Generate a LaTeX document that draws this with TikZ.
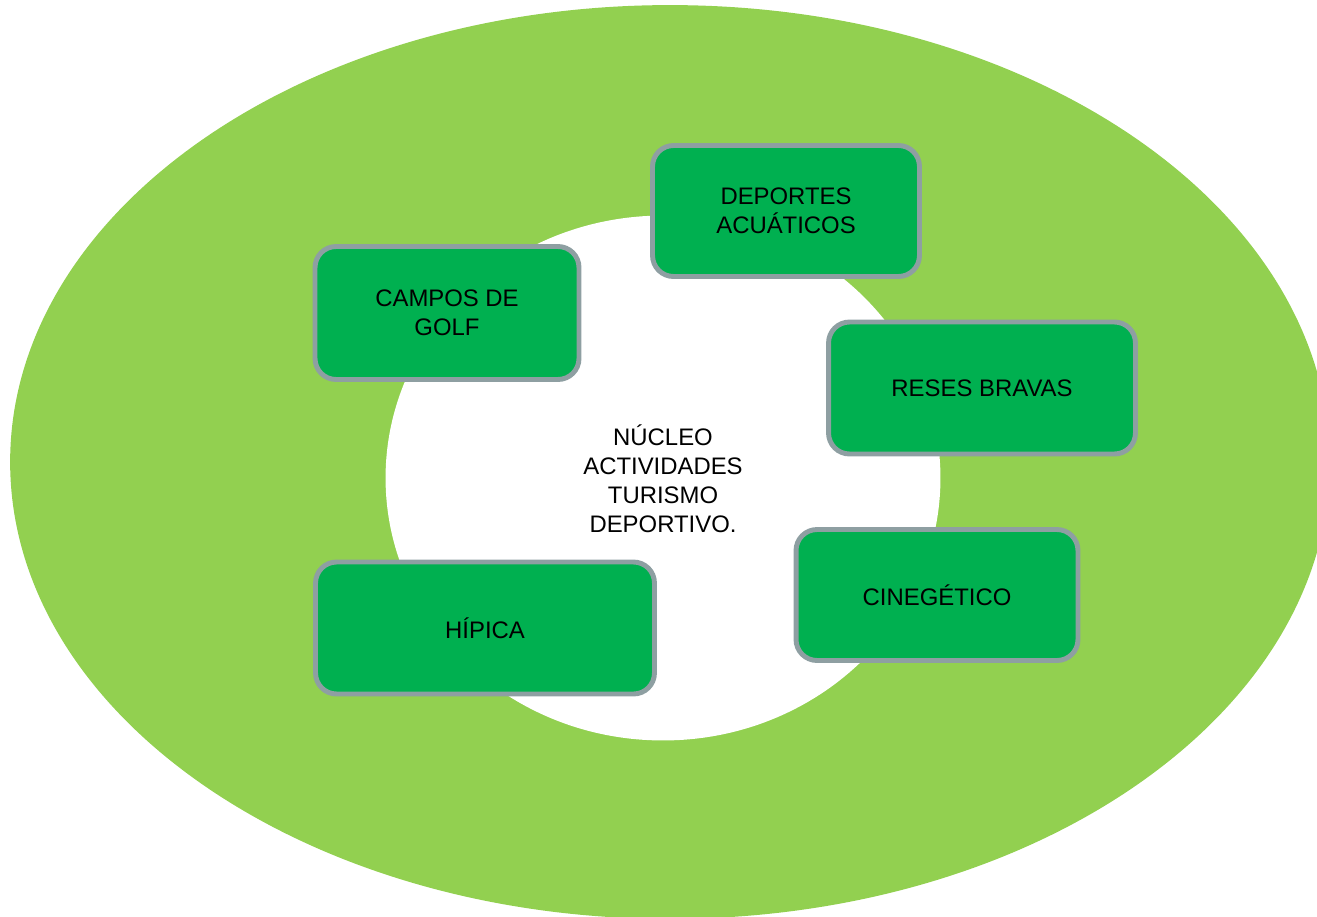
\documentclass[tikz,border=0pt]{standalone}
\usepackage{fontspec}
\setmainfont{Liberation Sans}
\usepackage{tikz}
\usetikzlibrary{positioning}

\definecolor{verdeclaro}{HTML}{92D050}
\definecolor{verdecaja}{HTML}{00B050}
\definecolor{bordegris}{HTML}{8E9FA2}

\tikzset{
  actividad/.style={draw=bordegris, line width=2.8pt, fill=verdecaja, rounded corners=0.42cm,
    align=center, inner sep=2pt, font=\fontsize{13.6}{16.5}\selectfont},
  nucleo/.style={align=center, font=\fontsize{13.6}{16.5}\selectfont}
}

\begin{document}
\begin{tikzpicture}[x=0.02cm,y=-0.02cm]
       \useasboundingbox (0,0) rectangle (1317,916);
       \clip (0,0) rectangle (1317,916);
       %\draw [step=100] (0,0) grid (1317,916);
       % fondo: elipse grande y elipse blanca
       \fill[verdeclaro] (670,462) ellipse [x radius=13.2cm, y radius=9.14cm];
       \fill[white] (663,478) ellipse [x radius=5.55cm, y radius=5.25cm];
       % centro
       \node[nucleo] (nucleo) at (663,479) {NÚCLEO\\ACTIVIDADES\\TURISMO\\DEPORTIVO.};
       % cajas
       \node[actividad, minimum width=5.34cm, minimum height=2.62cm] (acuaticos) at (786,211) {DEPORTES\\ACUÁTICOS};
       \node[actividad, minimum width=5.28cm, minimum height=2.66cm] (golf) at (447,313) {CAMPOS DE\\GOLF};
       \node[actividad, minimum width=6.14cm, minimum height=2.64cm] (reses) at (982,388) {RESES BRAVAS};
       \node[actividad, minimum width=5.64cm, minimum height=2.62cm] (cinegetico) at (937,595) {CINEGÉTICO};
       \node[actividad, minimum width=6.78cm, minimum height=2.64cm] (hipica) at (485,628) {HÍPICA};
\end{tikzpicture}
\end{document}
